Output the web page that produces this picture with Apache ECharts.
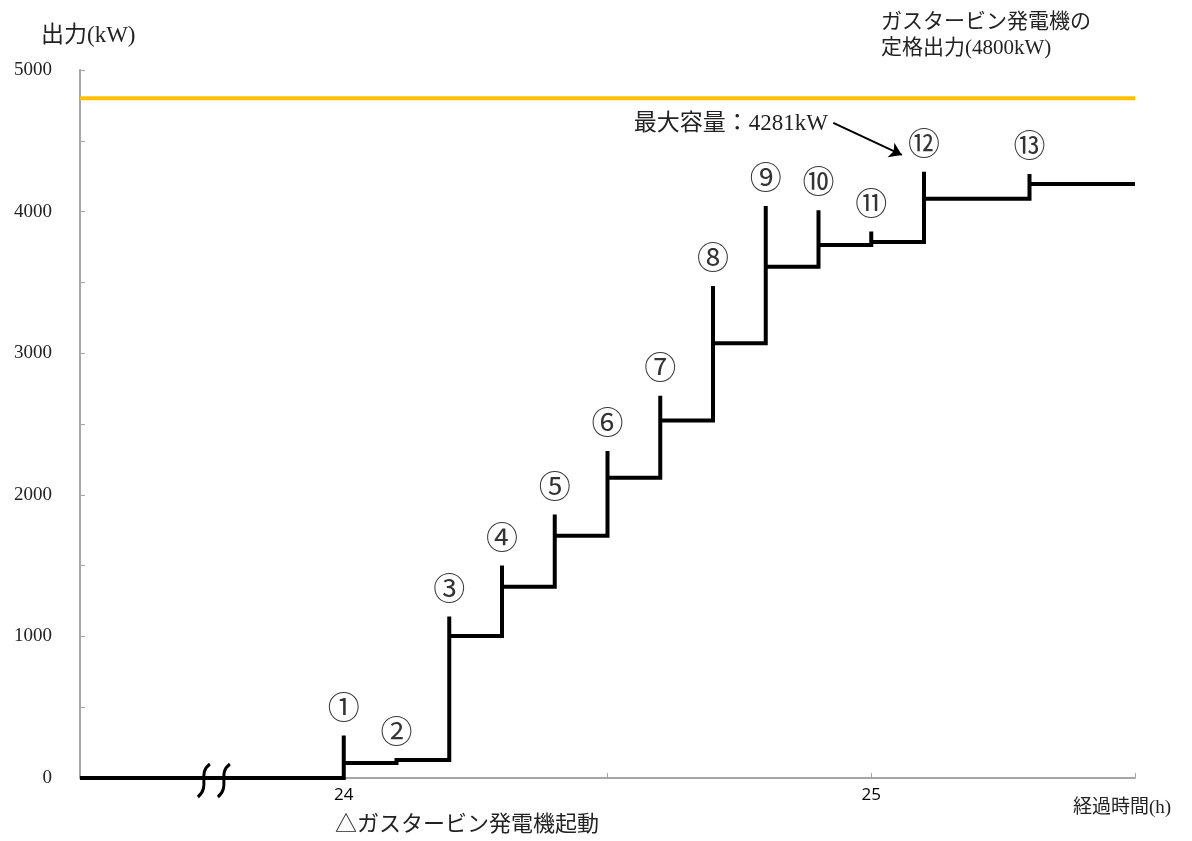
<!DOCTYPE html>
<html><head><meta charset="utf-8">
<script src="https://cdn.jsdelivr.net/npm/echarts@6/dist/echarts.min.js"></script>
<style>html,body{margin:0;padding:0;background:#fff}#c{width:1192px;height:841px}</style>
</head><body><div id="c"></div>
<script>
// ---- data ----
const stepHours   = [24.0, 24.1, 24.2, 24.3, 24.4, 24.5, 24.6, 24.7, 24.8, 24.9, 25.0, 25.1, 25.3];
const spikeValues = [300, 127, 1140, 1500, 1860, 2310, 2700, 3475, 4040, 4010, 3860, 4281, 4265];
const levelValues = [106, 127, 1003, 1350, 1710, 2120, 2525, 3070, 3610, 3765, 3785, 4090, 4195];
const stepLabels  = ['①','②','③','④','⑤','⑥','⑦','⑧','⑨','⑩','⑪','⑫','⑬'];
const startHour = 23.5;
const endHour = 25.5;
const ratedOutput = 4800;
const maxCapacity = 4281;
const xTickLabels = [24, 25];
const yTickLabels = [0, 1000, 2000, 3000, 4000, 5000];

// ---- build step polyline ----
const stepLine = [[startHour, 0]];
let prev = 0;
for (let i = 0; i < stepHours.length; i++) {
  stepLine.push([stepHours[i], prev]);
  stepLine.push([stepHours[i], spikeValues[i]]);
  stepLine.push([stepHours[i], levelValues[i]]);
  prev = levelValues[i];
}
stepLine.push([endHour, prev]);

const serifCJK = '"Liberation Serif", "Noto Sans CJK JP", serif';
const chart = echarts.init(document.getElementById('c'));
const option = {
  animation: false,
  backgroundColor: '#fff',
  grid: { left: 80, right: 57, top: 70, bottom: 63, containLabel: false },
  xAxis: {
    type: 'value', min: startHour, max: endHour, interval: 0.5,
    axisLine: { lineStyle: { color: '#a6a6a6', width: 2 } },
    axisTick: { inside: true, length: 5, lineStyle: { color: '#a6a6a6', width: 1 } },
    splitLine: { show: false },
    axisLabel: {
      margin: 9, color: '#000', fontFamily: '"Open Sans", Lato, sans-serif', fontSize: 17,
      formatter: v => xTickLabels.includes(v) ? String(v) : ''
    }
  },
  yAxis: {
    type: 'value', min: 0, max: 5000, interval: 500,
    axisLine: { show: true, lineStyle: { color: '#a6a6a6', width: 2 } },
    axisTick: { show: true, inside: true, length: 5, lineStyle: { color: '#a6a6a6', width: 1 } },
    splitLine: { show: false },
    axisLabel: {
      margin: 28, color: '#222', fontFamily: serifCJK, fontSize: 19,
      formatter: v => yTickLabels.includes(v) ? String(v) : ''
    }
  },
  series: [
    {
      type: 'line', data: [[startHour, ratedOutput], [endHour, ratedOutput]],
      symbol: 'none', lineStyle: { color: '#FFC000', width: 4 }, silent: true, z: 2
    },
    {
      type: 'line', data: stepLine, symbol: 'none',
      lineStyle: { color: '#000', width: 4, join: 'miter' }, silent: true, z: 3
    },
    {
      type: 'scatter', symbolSize: 0, silent: true, z: 4,
      data: stepHours.map((h, i) => ({ value: [h, spikeValues[i]], label: { formatter: stepLabels[i] } })),
      label: {
        show: true, position: 'top', distance: 13, color: '#000',
        fontFamily: '"Noto Sans CJK JP"', fontSize: 32
      },
      markLine: {
        silent: true, symbol: ['none', 'arrow'], symbolSize: 12,
        label: { show: false },
        lineStyle: { color: '#000', width: 2, type: 'solid' },
        data: [[{ coord: [24.928, 4626] }, { coord: [25.058, 4400] }]]
      }
    }
  ],
  graphic: [
    { type: 'text', left: 41, top: 24, style: { text: '出力(kW)', font: '23px ' + serifCJK, fill: '#222' } },
    { type: 'text', left: 881, top: 9, style: { text: 'ガスタービン発電機の\n定格出力(4800kW)', font: '21px ' + serifCJK, fill: '#222', lineHeight: 26 } },
    { type: 'text', right: 1192 - 828, top: 112, style: { text: '最大容量：' + maxCapacity + 'kW', font: '23px ' + serifCJK, fill: '#222' } },
    { type: 'text', left: 335, top: 814, style: { text: '△ガスタービン発電機起動', font: '22px ' + serifCJK, fill: '#222' } },
    { type: 'text', left: 1073, top: 799, style: { text: '経過時間(h)', font: '19px ' + serifCJK, fill: '#222' } }
  ]
};
chart.setOption(option);

// axis-break mark on the baseline
const bp = chart.convertToPixel({ gridIndex: 0 }, [23.75, 0]);
const cx = bp[0], cy = bp[1];
const breaks = [cx - 8, cx + 12].map(x => ({
  type: 'bezierCurve', z: 100,
  shape: { x1: x + 6, y1: cy - 14, cpx1: x - 7, cpy1: cy - 4, cpx2: x + 7, cpy2: cy + 8, x2: x - 6, y2: cy + 19 },
  style: { stroke: '#000', lineWidth: 3, fill: null }
}));
chart.setOption({ graphic: option.graphic.concat(breaks) });
</script></body></html>
